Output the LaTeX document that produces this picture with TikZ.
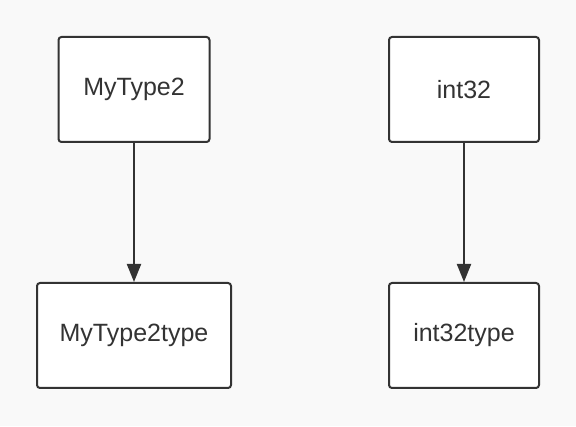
\documentclass[tikz,border=0pt]{standalone}
\usepackage{fontspec}
\setmainfont{Liberation Sans}
\usetikzlibrary{arrows.meta}
\definecolor{bgcol}{HTML}{F9F9F9}
\definecolor{linecol}{HTML}{333333}
\tikzset{
  typebox/.style={draw=linecol, fill=white, line width=2pt, rounded corners=3pt,
    minimum height=105pt, text=linecol, font=\fontsize{25}{29}\selectfont},
  typearrow/.style={draw=linecol, line width=2pt, -{Triangle[length=18pt,width=14pt]}}
}
\begin{document}
\begin{tikzpicture}[x=1pt, y=1pt]
\fill[bgcol] (0,0) rectangle (576,426);
\useasboundingbox (0,0) rectangle (576,426);

\node[typebox, minimum width=151pt] (mytype) at (134,336.5) {MyType2};
\node[typebox, minimum width=150pt] (int) at (464,336.5) {int32};
\node[typebox, minimum width=194pt] (mytypet) at (134,90.5) {MyType2type};
\node[typebox, minimum width=150pt] (intt) at (464,90.5) {int32type};

\draw[typearrow] (mytype) -- (mytypet);
\draw[typearrow] (int) -- (intt);
\end{tikzpicture}
\end{document}
